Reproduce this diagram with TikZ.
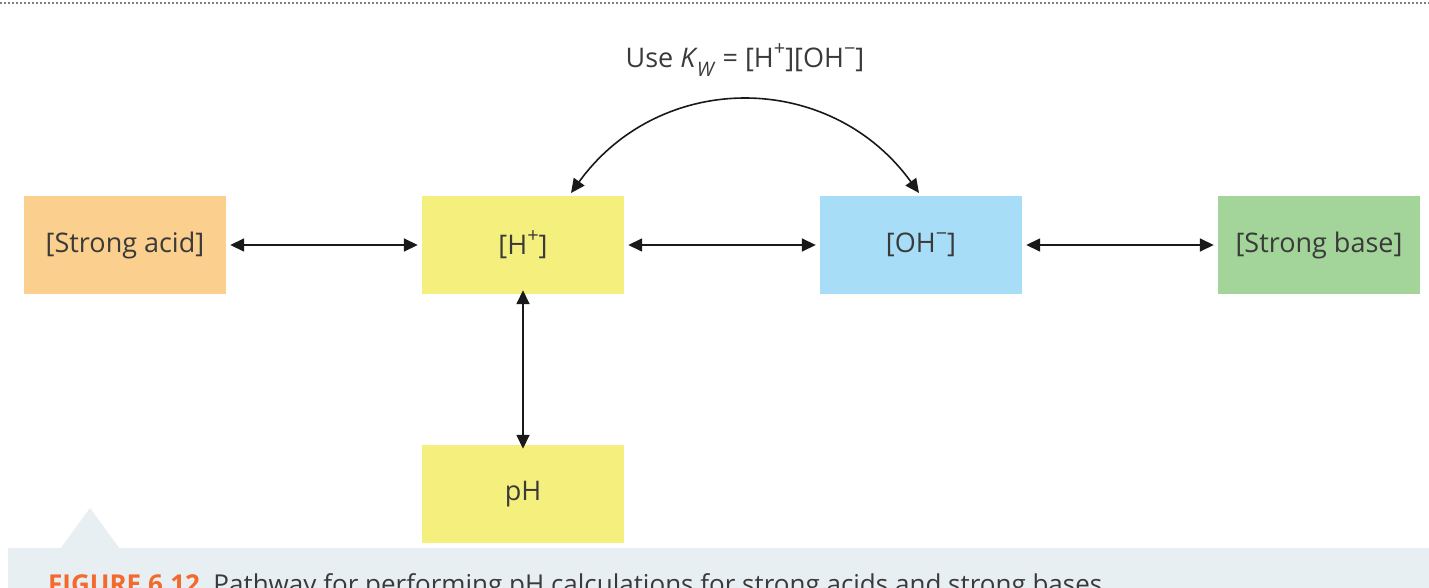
\documentclass[tikz,border=0pt]{standalone}
\usepackage{fontspec}
\setmainfont{Open Sans}
\usetikzlibrary{arrows.meta}
\definecolor{acid}{HTML}{FBCF8E}
\definecolor{hyel}{HTML}{F5F07E}
\definecolor{ohb}{HTML}{A8DDF7}
\definecolor{baseg}{HTML}{A3D49A}
\definecolor{panel}{HTML}{E8EFF2}
\definecolor{figor}{HTML}{F26A2E}
\definecolor{txt}{HTML}{3A3A3A}
\newcommand{\supx}[1]{\raisebox{0.45em}{\fontsize{20}{20}\selectfont #1}}
\newcommand{\subx}[1]{\raisebox{-0.3em}{\fontsize{20}{20}\selectfont #1}}
\begin{document}
\begin{tikzpicture}[x=1pt,y=-1pt,
  box/.style={minimum width=202pt,minimum height=98pt,inner sep=0pt,text=txt,font=\fontsize{27}{30}\selectfont},
  arr/.style={{Triangle[length=14pt,width=13pt]}-{Triangle[length=14pt,width=13pt]},line width=1.6pt,color=black!90}]
\useasboundingbox (0,0) rectangle (1429,588);
\begin{scope}
\clip (0,0) rectangle (1429,588);
\draw[gray,line width=1.5pt,dash pattern=on 1.5pt off 2.5pt] (0,3) -- (1429,3);
\fill[panel] (8,548) rectangle (1440,600);
\fill[panel] (60,549) -- (90,508) -- (120,549) -- cycle;
\node[anchor=base west,inner sep=0pt,font=\fontsize{26}{28}\selectfont] (cap) at (48,593)
  {\textcolor{figor}{\bfseries FIGURE 6.12}\ \ \textcolor{txt}{Pathway for performing pH calculations for strong acids and strong bases}};
\end{scope}
\node[box,fill=acid] (sa) at (125,245) {[Strong acid]};
\node[box,fill=hyel] (h) at (523,245) {[H\supx{+}]};
\node[box,fill=ohb] (oh) at (921,245) {[OH\supx{−}]};
\node[box,fill=baseg] (sb) at (1319,245) {[Strong base]};
\node[box,fill=hyel] (ph) at (523,494) {pH};
\draw[arr] ([xshift=4pt]sa.east) -- ([xshift=-4pt]h.west);
\draw[arr] ([xshift=4pt]h.east) -- ([xshift=-4pt]oh.west);
\draw[arr] ([xshift=4pt]oh.east) -- ([xshift=-4pt]sb.west);
\draw[arr] ([yshift=4pt]h.south) -- ([yshift=-4pt]ph.north);
\coordinate (c1) at (571,193);
\coordinate (c2) at (919,193);
\draw[arr] (c1) .. controls (660,70) and (830,70) .. (c2);
\node[text=txt,font=\fontsize{27}{30}\selectfont] (kw) at (745,60) {Use \textit{K}\kern-1pt\subx{\textit{W}} = [H\supx{+}][OH\supx{−}]};
\end{tikzpicture}
\end{document}
